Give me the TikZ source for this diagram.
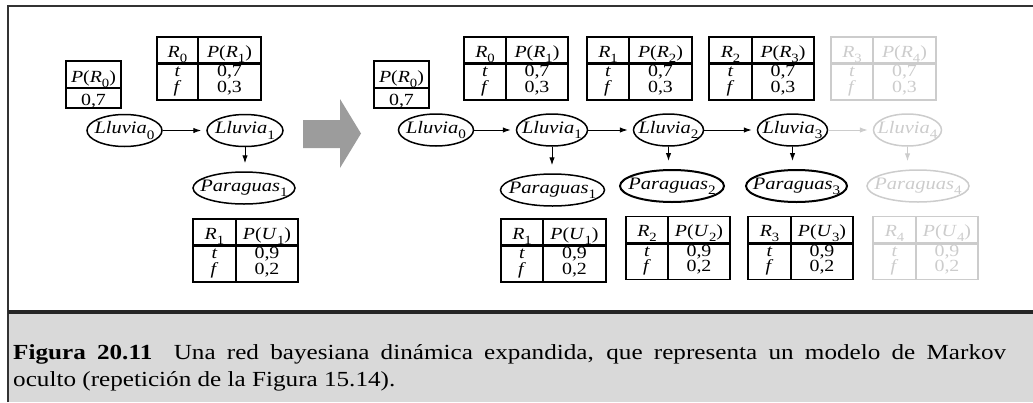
\documentclass[tikz,border=0pt]{standalone}
\usepackage{fontspec}
\setmainfont{Liberation Serif}[FakeStretch=1.17]
\usepackage{graphicx}
\usetikzlibrary{arrows.meta,shapes.geometric}
\definecolor{fadegray}{HTML}{CCCCCC}
\definecolor{arrowgray}{HTML}{9C9C9C}
\definecolor{capgray}{HTML}{D9D9D9}
\definecolor{framegray}{HTML}{333333}
\newcommand\tabfont{\fontsize{17}{19}\selectfont}
\newcommand\rvfont{\fontsize{17.5}{20}\selectfont\itshape}
\newcommand\capfont{\fontsize{21.5}{25}\selectfont}
\newcommand\sbs[1]{\raisebox{-0.3em}{\scalebox{0.74}{\upshape #1}}}
\tikzset{
  cptline/.style={line width=1.2pt},
  hdrrule/.style={line width=3pt},
  rv/.style={draw, ellipse, line width=1.5pt, inner sep=0pt, minimum height=32pt},
  lbl/.style={inner sep=0pt, anchor=base, font=\tabfont},
  link/.style={-{Latex[length=8pt,width=5.5pt]}, line width=1pt},
  faded/.style={color=fadegray},
}
% #1 name, #2 x left, #3 x mid, #4 x right, #5 y top, #6 parent idx, #7 letter, #8 child idx, #9 first value digit
\newcommand\cpt[9]{%
  \draw[cptline] (#2,#5) rectangle (#4,#5+63);
  \draw[cptline] (#3,#5) -- (#3,#5+63);
  \draw[hdrrule] (#2,#5+26.5) -- (#4,#5+26.5);
  \node[lbl] (#1-a) at ({(#2+#3)/2},#5+20) {\textit{R}\sbs{#6}};
  \node[lbl] (#1-b) at ({(#3+#4)/2},#5+20) {\textit{P}(\textit{#7}\sbs{#8})};
  \node[lbl] (#1-t) at ({(#2+#3)/2},#5+39.5) {\textit{t}};
  \node[lbl] (#1-f) at ({(#2+#3)/2},#5+55) {\textit{f}};
  \node[lbl] (#1-p) at ({(#3+#4)/2},#5+39.5) {0,#9};
  \node[lbl] (#1-q) at ({(#3+#4)/2},#5+55) {0,\ifx#7R3\else2\fi};
}
% #1 name, #2 x left, #3 x right
\newcommand\prior[3]{%
  \draw[cptline] (#2,61) rectangle (#3,108);
  \draw[cptline] (#2,88) -- (#3,88);
  \node[lbl] (#1-h) at ({(#2+#3)/2},82) {\textit{P}(\textit{R}\sbs{0})};
  \node[lbl] (#1-v) at ({(#2+#3)/2},105) {0,7};
}
\begin{document}
\begin{tikzpicture}[x=1pt,y=-1pt]
\useasboundingbox (0,0) rectangle (1033,402);
% frame and caption band
\fill[capgray] (9,313) rectangle (1033,402);
\draw[framegray, line width=2pt] (8,402) -- (8,6) -- (1033,6);
\draw[black!85, line width=4pt] (8,311.5) -- (1033,311.5);
\node[anchor=base west, inner sep=0pt, font=\capfont] (cap1) at (13,359)
  {\makebox[993pt][s]{\textbf{Figura 20.11}\quad Una red bayesiana dinámica expandida, que representa un modelo de Markov}};
\node[anchor=base west, inner sep=0pt, font=\capfont] (cap2) at (13,386)
  {oculto (repetición de la Figura 15.14).};
% big arrow
\fill[arrowgray] (303,120) -- (340,120) -- (340,99) -- (361,133.5) -- (340,168) -- (340,148) -- (303,148) -- cycle;

% ---------- left network ----------
\prior{lpr}{66}{121}
\cpt{lt1}{157}{198}{261}{37}{0}{R}{1}{7}
\cpt{lu1}{193}{236}{298}{219}{1}{U}{1}{9}
\node[rv, minimum width=75pt] (lL0) at (124.5,130.5) {\rvfont\makebox[0pt]{Lluvia\sbs{0}}};
\node[rv, minimum width=76pt] (lL1) at (245,130.5) {\rvfont\makebox[0pt]{Lluvia\sbs{1}}};
\node[rv, minimum width=102pt] (lP1) at (244,188) {\rvfont\makebox[0pt]{Paraguas\sbs{1}}};
\draw[link, shorten >=5pt] (lL0) -- (lL1);
\draw[link, shorten >=8pt] (lL1.south) -- (lL1.south |- lP1.north);

% ---------- right network ----------
\prior{rpr}{374}{429}
\cpt{rt1}{464}{506}{568}{37}{0}{R}{1}{7}
\cpt{rt2}{587}{629}{692}{37}{1}{R}{2}{7}
\cpt{rt3}{709}{752}{814}{37}{2}{R}{3}{7}
\cpt{ru1}{501}{543}{606}{219}{1}{U}{1}{9}
\cpt{ru2}{626}{668}{730}{216.5}{2}{U}{2}{9}
\cpt{ru3}{748}{791}{853}{216.5}{3}{U}{3}{9}
\begin{scope}[faded]
\cpt{rt4}{831}{873}{936}{37}{3}{R}{4}{7}
\cpt{ru4}{873}{916}{978}{216.5}{4}{U}{4}{9}
\end{scope}
\node[rv, minimum width=75pt] (rL0) at (436,130) {\rvfont\makebox[0pt]{Lluvia\sbs{0}}};
\node[rv, minimum width=71pt] (rL1) at (552,130) {\rvfont\makebox[0pt]{Lluvia\sbs{1}}};
\node[rv, minimum width=70pt] (rL2) at (668.5,130) {\rvfont\makebox[0pt]{Lluvia\sbs{2}}};
\node[rv, minimum width=70pt] (rL3) at (792.5,130) {\rvfont\makebox[0pt]{Lluvia\sbs{3}}};
\node[rv, faded, minimum width=68pt] (rL4) at (907.5,130) {\rvfont\makebox[0pt]{Lluvia\sbs{4}}};
\node[rv, minimum width=104pt] (rP1) at (552.5,190) {\rvfont\makebox[0pt]{Paraguas\sbs{1}}};
\node[rv, line width=2pt, minimum width=104pt] (rP2) at (672,186) {\rvfont\makebox[0pt]{Paraguas\sbs{2}}};
\node[rv, line width=2pt, minimum width=101pt] (rP3) at (796.5,186) {\rvfont\makebox[0pt]{Paraguas\sbs{3}}};
\node[rv, faded, minimum width=102pt] (rP4) at (918,186) {\rvfont\makebox[0pt]{Paraguas\sbs{4}}};
\draw[link, shorten >=5pt] (rL0) -- (rL1);
\draw[link, shorten >=5pt] (rL1) -- (rL2);
\draw[link, shorten >=5pt] (rL2) -- (rL3);
\draw[link, faded, shorten >=5pt] (rL3) -- (rL4);
\draw[link, shorten >=8pt] (rL1.south) -- (rL1.south |- rP1.north);
\draw[link, shorten >=8pt] (rL2.south) -- (rL2.south |- rP2.north);
\draw[link, shorten >=8pt] (rL3.south) -- (rL3.south |- rP3.north);
\draw[link, faded, shorten >=8pt] (rL4.south) -- (rL4.south |- rP4.north);
\end{tikzpicture}
\end{document}
